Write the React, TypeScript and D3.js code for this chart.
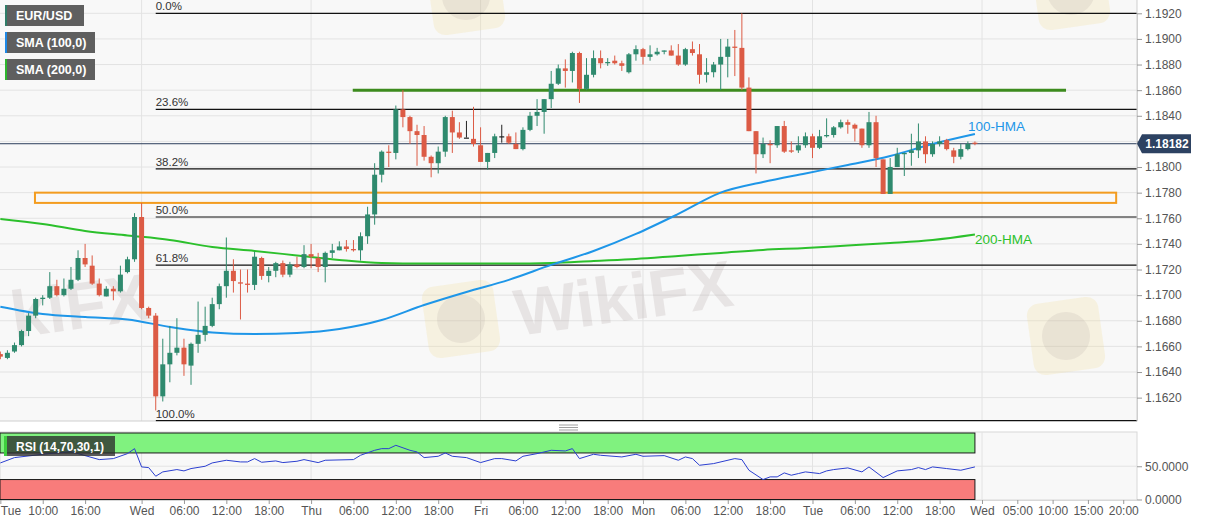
import React, { useEffect, useRef } from 'react';
import * as d3 from 'd3';

const W = 1207;
const H = 526;

// hourly candles, first one is Tue 04:00 (hour index 4); [open, high, low, close]
const FIRST_HOUR = 4;
const ohlc: [number, number, number, number][] = [
  [1.1654, 1.1656, 1.1650, 1.1652], [1.1651, 1.1657, 1.1650, 1.1655], [1.1656, 1.1663, 1.1655, 1.1661],
  [1.1661, 1.1673, 1.1660, 1.1672], [1.1672, 1.1686, 1.1668, 1.1684], [1.1684, 1.1698, 1.1682, 1.1697],
  [1.1697, 1.1700, 1.1692, 1.1698], [1.1698, 1.1718, 1.1697, 1.1707], [1.1707, 1.1712, 1.1699, 1.1700],
  [1.1700, 1.1713, 1.1699, 1.1705], [1.1705, 1.1722, 1.1704, 1.1712], [1.1712, 1.1735, 1.1711, 1.1729],
  [1.1729, 1.1740, 1.1722, 1.1724], [1.1723, 1.1731, 1.1708, 1.1709], [1.1709, 1.1713, 1.1699, 1.1700],
  [1.1699, 1.1707, 1.1699, 1.1705], [1.1705, 1.1707, 1.1696, 1.1703], [1.1703, 1.1723, 1.1702, 1.1716],
  [1.1718, 1.1730, 1.1717, 1.1728], [1.1728, 1.1764, 1.1726, 1.1761], [1.1761, 1.1772, 1.1689, 1.1690],
  [1.1690, 1.1691, 1.1682, 1.1684], [1.1684, 1.1686, 1.1610, 1.1621], [1.1621, 1.1666, 1.1617, 1.1646],
  [1.1646, 1.1676, 1.1632, 1.1655], [1.1655, 1.1682, 1.1653, 1.1659], [1.1659, 1.1666, 1.1637, 1.1646],
  [1.1645, 1.1663, 1.1630, 1.1662], [1.1662, 1.1695, 1.1655, 1.1669], [1.1669, 1.1691, 1.1664, 1.1676],
  [1.1676, 1.1698, 1.1675, 1.1693], [1.1693, 1.1709, 1.1689, 1.1707], [1.1707, 1.1745, 1.1698, 1.1719],
  [1.1719, 1.1728, 1.1702, 1.1711], [1.1710, 1.1720, 1.1681, 1.1709], [1.1709, 1.1720, 1.1702, 1.1708],
  [1.1708, 1.1734, 1.1704, 1.1730], [1.1729, 1.1730, 1.1712, 1.1715], [1.1715, 1.1722, 1.1710, 1.1719],
  [1.1719, 1.1726, 1.1714, 1.1725], [1.1725, 1.1727, 1.1714, 1.1716], [1.1716, 1.1726, 1.1714, 1.1724],
  [1.1724, 1.1730, 1.1721, 1.1722], [1.1722, 1.1739, 1.1721, 1.1732], [1.1732, 1.1740, 1.1721, 1.1730],
  [1.1729, 1.1733, 1.1718, 1.1722], [1.1722, 1.1734, 1.1710, 1.1733], [1.1733, 1.1740, 1.1729, 1.1735],
  [1.1735, 1.1742, 1.1735, 1.1738], [1.1738, 1.1743, 1.1734, 1.1736], [1.1736, 1.1743, 1.1734, 1.1735],
  [1.1735, 1.1749, 1.1727, 1.1746], [1.1746, 1.1769, 1.1740, 1.1763], [1.1763, 1.1803, 1.1755, 1.1794],
  [1.1794, 1.1813, 1.1788, 1.1812], [1.1812, 1.1817, 1.1800, 1.1811], [1.1811, 1.1848, 1.1806, 1.1845],
  [1.1845, 1.1860, 1.1831, 1.1839], [1.1839, 1.1840, 1.1818, 1.1828], [1.1828, 1.1833, 1.1801, 1.1825],
  [1.1825, 1.1832, 1.1805, 1.1808], [1.1808, 1.1809, 1.1792, 1.1803], [1.1803, 1.1816, 1.1795, 1.1812],
  [1.1812, 1.1840, 1.1808, 1.1839], [1.1839, 1.1844, 1.1811, 1.1827], [1.1827, 1.1835, 1.1822, 1.1823],
  [1.1823, 1.1836, 1.1823, 1.1823], [1.1822, 1.1847, 1.1816, 1.1818], [1.1817, 1.1831, 1.1804, 1.1804],
  [1.1804, 1.1811, 1.1798, 1.1811], [1.1811, 1.1826, 1.1807, 1.1824], [1.1824, 1.1833, 1.1819, 1.1824],
  [1.1824, 1.1826, 1.1818, 1.1819], [1.1818, 1.1827, 1.1814, 1.1814], [1.1814, 1.1831, 1.1813, 1.1829],
  [1.1829, 1.1843, 1.1828, 1.1840], [1.1840, 1.1853, 1.1832, 1.1843], [1.1843, 1.1853, 1.1826, 1.1853],
  [1.1853, 1.1875, 1.1846, 1.1865], [1.1865, 1.1880, 1.1864, 1.1877], [1.1877, 1.1884, 1.1862, 1.1875],
  [1.1875, 1.1890, 1.1866, 1.1889], [1.1889, 1.1890, 1.1850, 1.1861], [1.1861, 1.1885, 1.1860, 1.1872],
  [1.1872, 1.1891, 1.1870, 1.1885], [1.1885, 1.1891, 1.1877, 1.1881], [1.1881, 1.1885, 1.1879, 1.1882],
  [1.1883, 1.1887, 1.1880, 1.1881], [1.1881, 1.1883, 1.1875, 1.1879], [1.1874, 1.1889, 1.1873, 1.1888],
  [1.1888, 1.1895, 1.1883, 1.1892], [1.1892, 1.1893, 1.1880, 1.1886], [1.1886, 1.1895, 1.1883, 1.1888],
  [1.1888, 1.1893, 1.1887, 1.1890], [1.1890, 1.1891, 1.1888, 1.1891], [1.1891, 1.1895, 1.1887, 1.1887],
  [1.1887, 1.1896, 1.1879, 1.1880], [1.1880, 1.1893, 1.1879, 1.1892], [1.1892, 1.1898, 1.1887, 1.1889],
  [1.1888, 1.1896, 1.1865, 1.1872], [1.1872, 1.1885, 1.1866, 1.1874], [1.1874, 1.1882, 1.1870, 1.1880],
  [1.1880, 1.1900, 1.1860, 1.1886], [1.1886, 1.1900, 1.1870, 1.1894], [1.1894, 1.1907, 1.1871, 1.1893],
  [1.1893, 1.1920, 1.1860, 1.1862], [1.1862, 1.1870, 1.1828, 1.1828], [1.1828, 1.1828, 1.1795, 1.1810],
  [1.1810, 1.1823, 1.1807, 1.1818], [1.1818, 1.1821, 1.1803, 1.1817], [1.1817, 1.1832, 1.1815, 1.1832],
  [1.1832, 1.1836, 1.1811, 1.1812], [1.1813, 1.1820, 1.1811, 1.1812], [1.1813, 1.1824, 1.1811, 1.1817],
  [1.1817, 1.1827, 1.1815, 1.1824], [1.1824, 1.1826, 1.1807, 1.1815], [1.1815, 1.1829, 1.1814, 1.1824],
  [1.1824, 1.1838, 1.1823, 1.1825], [1.1825, 1.1832, 1.1823, 1.1831], [1.1831, 1.1837, 1.1830, 1.1835],
  [1.1835, 1.1837, 1.1826, 1.1833], [1.1833, 1.1834, 1.1820, 1.1830], [1.1830, 1.1830, 1.1815, 1.1817],
  [1.1817, 1.1843, 1.1815, 1.1835], [1.1835, 1.1840, 1.1800, 1.1807], [1.1806, 1.1806, 1.1779, 1.1779],
  [1.1779, 1.1807, 1.1779, 1.1800], [1.1800, 1.1815, 1.1800, 1.1810], [1.1810, 1.1811, 1.1793, 1.1811],
  [1.1811, 1.1826, 1.1801, 1.1813], [1.1813, 1.1834, 1.1807, 1.1820], [1.1820, 1.1824, 1.1803, 1.1810],
  [1.1810, 1.1820, 1.1808, 1.1818], [1.1818, 1.1824, 1.1816, 1.1820], [1.1821, 1.1822, 1.1813, 1.1814],
  [1.1813, 1.1815, 1.1803, 1.1808], [1.1808, 1.1818, 1.1806, 1.1814], [1.1814, 1.1820, 1.1813, 1.1818],
  [1.1819, 1.1820, 1.1817, 1.18182],
];

// [hour index, value]
const hma100: [number, number][] = [
  [4, 1.1691], [10, 1.16853], [16, 1.1683], [22, 1.1681], [28, 1.16752], [34, 1.16709], [40, 1.16697],
  [46, 1.16705], [52, 1.16736], [58, 1.16806], [64, 1.16923], [70, 1.17025], [76, 1.17119], [82, 1.17236],
  [88, 1.17345], [94, 1.17478], [100, 1.17634], [106, 1.178], [112, 1.17883], [118, 1.1795], [124, 1.18016],
  [130, 1.18086], [136, 1.1818], [142, 1.18258],
];
const hma200: [number, number][] = [
  [4, 1.17595], [10, 1.17556], [16, 1.17501], [22, 1.17466], [28, 1.17431], [34, 1.17376], [40, 1.17345],
  [46, 1.1731], [52, 1.17275], [58, 1.17251], [64, 1.17247], [70, 1.17247], [76, 1.17247], [82, 1.17251],
  [88, 1.17267], [94, 1.17282], [100, 1.17306], [106, 1.17329], [112, 1.17353], [118, 1.17368], [124, 1.17388],
  [130, 1.17407], [136, 1.17431], [142, 1.17474],
];
const rsi: [number, number][] = [
  [4, 55], [6, 63], [10, 68], [14, 72], [18, 60], [20, 61.5], [22, 69], [23, 76.5], [24, 49], [25, 48], [26, 35],
  [27, 41.5], [29, 45], [30, 43], [31, 46.5], [33, 50], [34, 55], [36, 59], [38, 56.5], [39, 56.5], [40, 61.5],
  [41, 56], [43, 58], [44, 55.5], [46, 57.5], [47, 60], [49, 55.5], [50, 59], [54, 60], [55, 66.5], [57, 74],
  [58, 76.5], [59, 76.5], [60, 81.5], [62, 74], [63, 71.5], [64, 63], [66, 65], [67, 70], [68, 65], [70, 63],
  [72, 55.5], [74, 61.5], [75, 61.5], [77, 58], [78, 65], [80, 69], [82, 74], [84, 73], [85, 76.5], [86, 61.5],
  [88, 68], [89, 66.5], [92, 64], [94, 68], [95, 65], [98, 66], [100, 59], [101, 64], [102, 61.5], [103, 51.5],
  [105, 54], [108, 61.5], [109, 60], [110, 44], [112, 30], [113, 34], [114, 34], [115, 40], [116, 36.5],
  [117, 39], [118, 41.5], [120, 39], [121, 43], [122, 45], [124, 47.5], [126, 41.5], [127, 49], [129, 33],
  [131, 43], [133, 45], [134, 48], [135, 45], [136, 49], [138, 46.5], [140, 44], [142, 49],
];

const fibHigh = 1.1920;
const fibLow = 1.1602;
const fibStartHour = 26;
const fibRatios = [0, 0.236, 0.382, 0.5, 0.618, 1];
const fibLabels = ["0.0%", "23.6%", "38.2%", "50.0%", "61.8%", "100.0%"];

const priceTicks = d3.range(16).map(i => +(1.162 + i * 0.002).toFixed(4));
const rsiTicks = [0, 50];
const timeTicks: [number, string][] = [
  [4, "Tue"], [10, "10:00"], [16, "16:00"], [24, "Wed"], [30, "06:00"], [36, "12:00"], [42, "18:00"],
  [48, "Thu"], [54, "06:00"], [60, "12:00"], [66, "18:00"], [72, "Fri"], [78, "06:00"], [84, "12:00"],
  [90, "18:00"], [95, "Mon"], [101, "06:00"], [107, "12:00"], [113, "18:00"], [119, "Tue"], [125, "06:00"],
  [131, "12:00"], [137, "18:00"], [143, "Wed"], [148, "05:00"], [153, "10:00"], [158, "15:00"], [163, "20:00"],
];
const dayBreaks = [24, 48, 72, 95, 119, 143];

const lastPrice = 1.18182;
const resistance = { price: 1.1860, from: 53.9, to: 154.9 };
const supportZone = { top: 1.1780, bottom: 1.1772, from: 8.9, to: 162 };
const legendItems = ["EUR/USD", "SMA (100,0)", "SMA (200,0)"];

export default function App() {
  const svgRef = useRef<SVGSVGElement>(null);

  useEffect(() => {
    if (!svgRef.current) return;
    const svg = d3.select(svgRef.current);
    svg.selectAll("*").remove();

    const font = "Arial, 'Liberation Sans', sans-serif";
    const colors = {
      up: "#2f8a6e", down: "#dc5b45", doji: "#222",
      grid: "#e3e3e3", paneBg: "#f8f8f8", axisText: "#555",
      hma100: "#1e96e8", hma200: "#2cc02c", rsi: "#2b3fd0",
      fib: "#111", orange: "#f39c1f", resist: "#3d8b1e", priceTag: "#2d4262",
    };

    const plotR = 1137;
    const mainBot = 421, rsiTop = 432, rsiBot = 500;
    const x = d3.scaleLinear().domain([3.95, 164.95]).range([0, plotR]);
    const y = d3.scaleLinear().domain([fibLow, fibHigh]).range([420.7, 13.3]);
    const yr = d3.scaleLinear().domain([0, 100]).range([499.5, 433]);

    svg.append("rect").attr("width", W).attr("height", H).attr("fill", "#fff");
    svg.append("rect").attr("x", 0).attr("y", 0).attr("width", plotR).attr("height", mainBot).attr("fill", colors.paneBg);
    svg.append("rect").attr("x", 0).attr("y", rsiTop).attr("width", plotR).attr("height", rsiBot - rsiTop)
      .attr("fill", colors.paneBg).attr("stroke", "#d8d8d8");

    // grids
    const grid = svg.append("g").attr("stroke", colors.grid).attr("stroke-width", 1);
    priceTicks.forEach(p => grid.append("line").attr("x1", 0).attr("x2", plotR).attr("y1", y(p)).attr("y2", y(p)));
    dayBreaks.forEach(h => {
      grid.append("line").attr("x1", x(h)).attr("x2", x(h)).attr("y1", 0).attr("y2", mainBot);
      grid.append("line").attr("x1", x(h)).attr("x2", x(h)).attr("y1", rsiTop).attr("y2", rsiBot);
    });
    grid.append("line").attr("x1", 0).attr("x2", plotR).attr("y1", yr(50)).attr("y2", yr(50));

    // watermarks
    const wm = svg.append("g").style("pointer-events", "none");
    [[430, -40], [1035, -45], [425, 283], [1030, 300]].forEach(([wx, wy]) => {
      wm.append("rect").attr("x", wx).attr("y", wy).attr("width", 72).attr("height", 72).attr("rx", 12)
        .attr("fill", "#f2d98c").attr("opacity", 0.22).attr("transform", `rotate(-8, ${wx + 36}, ${wy + 36})`);
      wm.append("circle").attr("cx", wx + 36).attr("cy", wy + 36).attr("r", 24).attr("fill", "#9a9090").attr("opacity", 0.14);
    });
    [[518, 336, "WikiFX"], [14, 338, "kiFX"]].forEach(([tx, ty, t]) => {
      wm.append("text").attr("x", tx as number).attr("y", ty as number).text(t as string)
        .attr("transform", `rotate(-8, ${tx}, ${ty})`)
        .attr("fill", "#a89898").attr("opacity", 0.2).style("font-family", font).style("font-weight", "bold")
        .style("font-size", "66px");
    });

    // fibonacci retracement
    const fx = x(fibStartHour);
    fibRatios.forEach((r, i) => {
      const p = fibHigh - r * (fibHigh - fibLow);
      svg.append("line").attr("x1", fx).attr("x2", plotR).attr("y1", y(p)).attr("y2", y(p))
        .attr("stroke", colors.fib).attr("stroke-width", 1.2);
      svg.append("text").attr("x", fx).attr("y", y(p) - 3).text(fibLabels[i]).attr("fill", "#333")
        .style("font-family", font).style("font-size", "11.5px");
    });

    // current price line
    svg.append("line").attr("x1", 0).attr("x2", plotR).attr("y1", y(lastPrice)).attr("y2", y(lastPrice))
      .attr("stroke", "#2c3e5c").attr("stroke-width", 1);

    // support zone and resistance
    svg.append("rect").attr("x", x(supportZone.from)).attr("y", y(supportZone.top))
      .attr("width", x(supportZone.to) - x(supportZone.from)).attr("height", y(supportZone.bottom) - y(supportZone.top))
      .attr("fill", "none").attr("stroke", colors.orange).attr("stroke-width", 2);
    svg.append("line").attr("x1", x(resistance.from)).attr("x2", x(resistance.to))
      .attr("y1", y(resistance.price)).attr("y2", y(resistance.price))
      .attr("stroke", colors.resist).attr("stroke-width", 3);

    // moving averages
    const line = d3.line<[number, number]>().x(d => x(d[0])).y(d => y(d[1])).curve(d3.curveMonotoneX);
    svg.append("path").attr("d", line(hma200)).attr("fill", "none").attr("stroke", colors.hma200).attr("stroke-width", 2);
    svg.append("path").attr("d", line(hma100)).attr("fill", "none").attr("stroke", colors.hma100).attr("stroke-width", 2);

    // candles
    const cg = svg.append("g");
    ohlc.forEach(([o, h, l, c], i) => {
      const cx = x(FIRST_HOUR + i);
      const col = c > o ? colors.up : c < o ? colors.down : colors.doji;
      cg.append("line").attr("x1", cx).attr("x2", cx).attr("y1", y(h)).attr("y2", y(l)).attr("stroke", col).attr("stroke-width", 1);
      const top = Math.min(y(o), y(c));
      const hgt = Math.max(1.2, Math.abs(y(o) - y(c)));
      cg.append("rect").attr("x", cx - 2.5).attr("y", top).attr("width", 5).attr("height", hgt).attr("fill", col);
    });

    // HMA labels
    const last100 = hma100[hma100.length - 1];
    const last200 = hma200[hma200.length - 1];
    svg.append("text").attr("x", x(last100[0]) - 7).attr("y", y(last100[1]) - 3).text("100-HMA")
      .attr("fill", colors.hma100).style("font-family", font).style("font-size", "13.5px");
    svg.append("text").attr("x", x(last200[0])).attr("y", y(last200[1]) + 10).text("200-HMA")
      .attr("fill", colors.hma200).style("font-family", font).style("font-size", "13.5px");

    // main pane borders
    svg.append("line").attr("x1", plotR).attr("x2", plotR).attr("y1", 0).attr("y2", mainBot).attr("stroke", "#cfcfcf");
    svg.append("line").attr("x1", 0).attr("x2", fx).attr("y1", mainBot).attr("y2", mainBot).attr("stroke", "#cfcfcf");

    // pane splitter handle
    [425, 427.5, 430].forEach(yy => svg.append("line").attr("x1", 559).attr("x2", 578).attr("y1", yy).attr("y2", yy)
      .attr("stroke", "#888").attr("stroke-width", 0.8));

    // RSI pane
    const lastX = x(FIRST_HOUR + ohlc.length - 1);
    svg.append("rect").attr("x", 0).attr("y", yr(100)).attr("width", lastX).attr("height", yr(70) - yr(100))
      .attr("fill", "#80f27f").attr("stroke", "#1a1a1a").attr("stroke-width", 1);
    svg.append("rect").attr("x", 0).attr("y", yr(30)).attr("width", lastX).attr("height", yr(0) - yr(30))
      .attr("fill", "#f87c7b").attr("stroke", "#1a1a1a").attr("stroke-width", 1);
    const rline = d3.line<[number, number]>().x(d => x(d[0])).y(d => yr(d[1]));
    svg.append("path").attr("d", rline(rsi)).attr("fill", "none").attr("stroke", colors.rsi).attr("stroke-width", 1);

    // axes
    const styleAxis = (g: any) => {
      g.select(".domain").attr("stroke", "#cfcfcf");
      g.selectAll(".tick line").attr("stroke", "#999");
      g.selectAll("text").attr("fill", colors.axisText).style("font-family", font).style("font-size", "12px");
    };
    const yp = y(lastPrice);
    // tick labels that sit under the last-price tag are hidden, as in the original
    svg.append("g").attr("transform", `translate(${plotR},0)`)
      .call(d3.axisRight(y).tickValues(priceTicks)
        .tickFormat(d => Math.abs(y(+d) - yp) < 12 ? "" : d3.format(".4f")(+d))
        .tickSize(5).tickPadding(3).tickSizeOuter(0))
      .call(styleAxis);
    svg.append("g").attr("transform", `translate(${plotR},0)`)
      .call(d3.axisRight(yr).tickValues(rsiTicks).tickFormat(d3.format(".4f")).tickSize(5).tickPadding(3).tickSizeOuter(0))
      .call(styleAxis).select(".domain").remove();
    const labelOf = new Map(timeTicks);
    const xa = svg.append("g").attr("transform", `translate(0,${rsiBot})`)
      .call(d3.axisBottom(x).tickValues(timeTicks.map(t => t[0])).tickFormat(d => labelOf.get(+d) ?? "")
        .tickSize(4).tickPadding(2).tickSizeOuter(0))
      .call(styleAxis);
    xa.select(".domain").attr("stroke", "#d8d8d8");
    xa.selectAll<SVGTextElement, number>("text").filter(d => d === timeTicks[0][0]).attr("text-anchor", "start").attr("x", 0);

    // last price tag
    svg.append("path")
      .attr("d", `M${plotR},${yp} L${plotR + 5},${yp - 9.5} L${plotR + 54},${yp - 9.5} L${plotR + 54},${yp + 9.5} L${plotR + 5},${yp + 9.5} Z`)
      .attr("fill", colors.priceTag);
    svg.append("text").attr("x", plotR + 30).attr("y", yp + 4.3).attr("text-anchor", "middle").text(lastPrice.toFixed(5))
      .attr("fill", "#fff").style("font-family", font).style("font-size", "12px").style("font-weight", "bold");

    // legends
    const stripColors = ["#2f7d68", "#1e88e5", "#2db52d"];
    const boxW = [79, 90, 90];
    legendItems.forEach((t, i) => {
      const by = 5 + i * 27;
      svg.append("rect").attr("x", 5).attr("y", by).attr("width", boxW[i]).attr("height", 21).attr("fill", "#5f5f5f");
      svg.append("rect").attr("x", 5).attr("y", by).attr("width", 2).attr("height", 21).attr("fill", stripColors[i]);
      svg.append("text").attr("x", 16).attr("y", by + 15).text(t).attr("fill", "#fff")
        .style("font-family", font).style("font-size", "12.5px").style("font-weight", "bold");
    });
    svg.append("rect").attr("x", 4).attr("y", 436).attr("width", 111).attr("height", 20).attr("fill", "rgba(45,45,45,0.78)");
    svg.append("rect").attr("x", 4).attr("y", 436).attr("width", 3).attr("height", 20).attr("fill", "#3ecf3e");
    svg.append("text").attr("x", 16).attr("y", 450.5).text("RSI (14,70,30,1)").attr("fill", "#fff")
      .style("font-family", font).style("font-size", "12px").style("font-weight", "bold");
  }, []);

  return (
    <svg ref={svgRef} width={W} height={H} viewBox={`0 0 ${W} ${H}`}
      style={{ position: 'absolute', left: 0, top: 0, display: 'block' }} />
  );
}
